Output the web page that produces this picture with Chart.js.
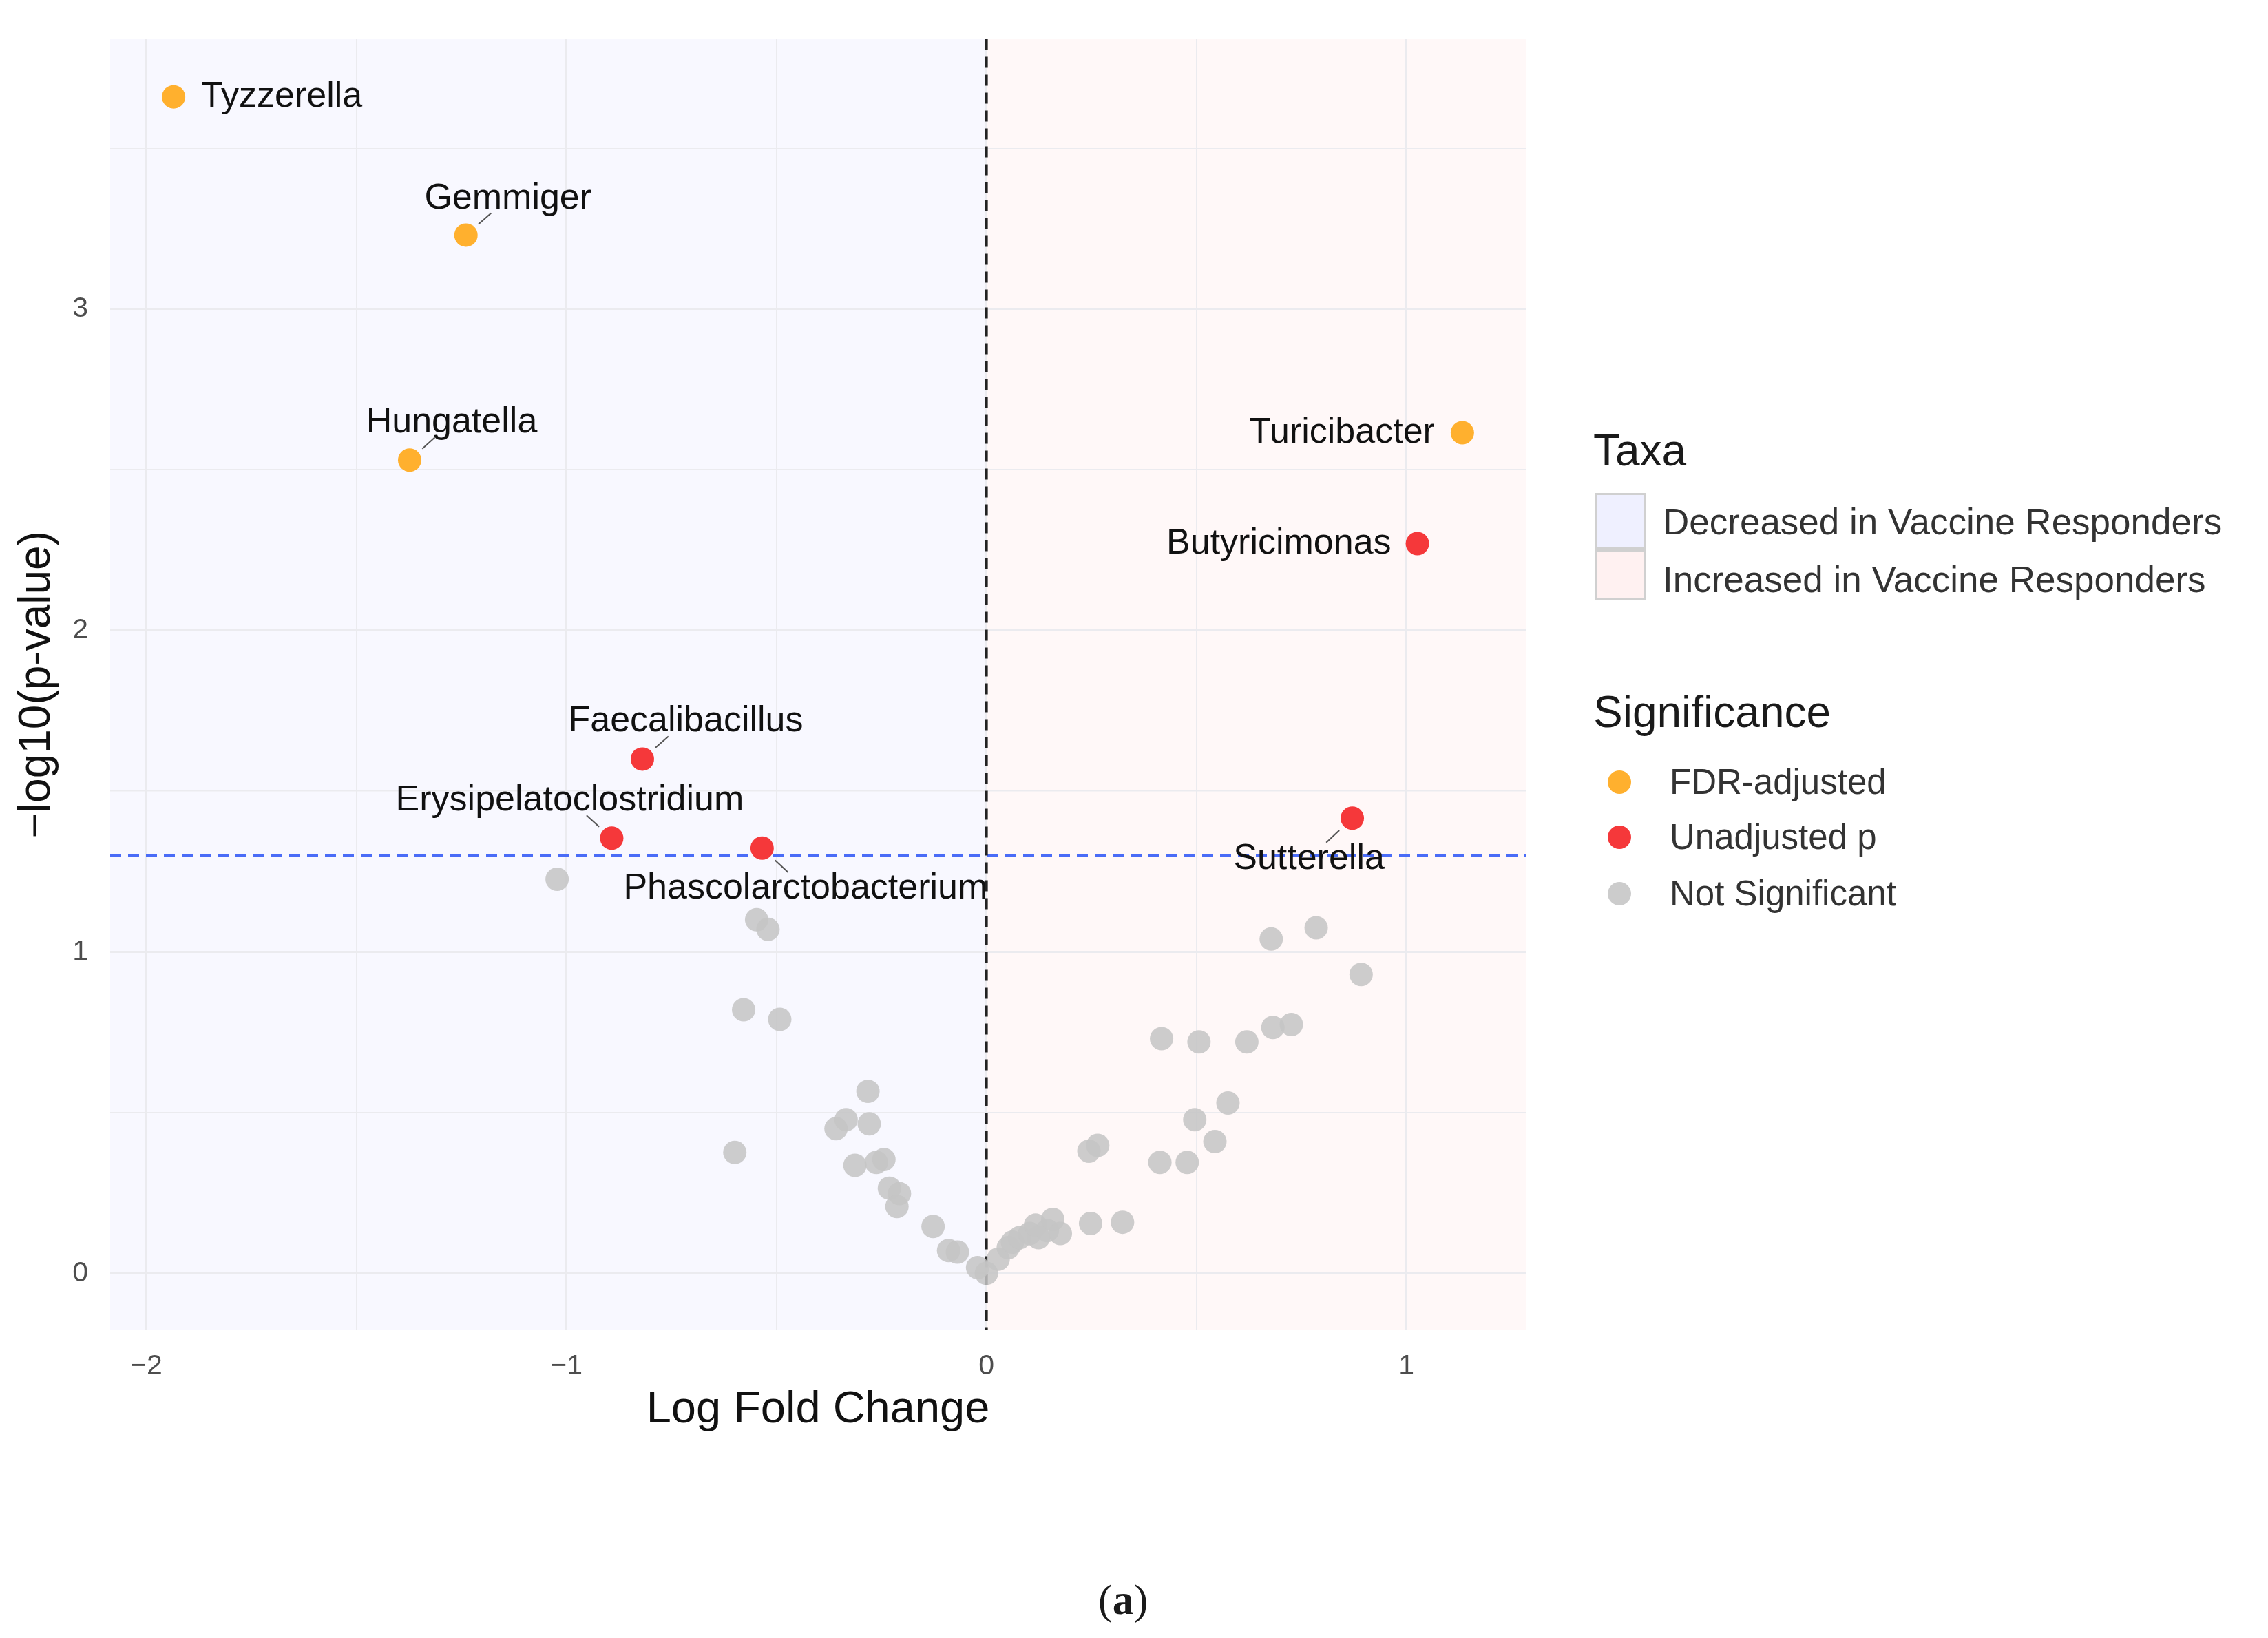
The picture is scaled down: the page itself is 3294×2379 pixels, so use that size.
<!DOCTYPE html>
<html><head><meta charset="utf-8">
<script src="https://cdn.jsdelivr.net/npm/chart.js@4"></script>
<style>
html,body{margin:0;padding:0;background:#fff;}
#wrap{position:relative;width:3294px;height:2379px;font-family:"Liberation Sans",Arial,sans-serif;}
canvas{position:absolute;left:0;top:0;}
.t{position:absolute;white-space:nowrap;color:#1a1a1a;line-height:1;}
.key{position:absolute;border:3px solid #d0d0d0;box-sizing:border-box;}
.dot{position:absolute;width:34px;height:34px;border-radius:50%;}
</style></head>
<body><div id="wrap"><canvas id="c" width="3294" height="2379"></canvas>
<div class="t" style="left:2314px;top:622px;font-size:64px;">Taxa</div>
<div class="key" style="left:2316px;top:716px;width:74px;height:82px;background:#EFF0FF;"></div>
<div class="key" style="left:2316px;top:798px;width:74px;height:74px;background:#FFF1F1;"></div>
<div class="t" style="left:2415px;top:731px;font-size:53px;color:#333;">Decreased in Vaccine Responders</div>
<div class="t" style="left:2415px;top:815px;font-size:53px;color:#333;">Increased in Vaccine Responders</div>
<div class="t" style="left:2314px;top:1002px;font-size:64px;">Significance</div>
<div class="dot" style="left:2335px;top:1119px;background:#FFB02E;"></div>
<div class="dot" style="left:2335px;top:1199px;background:#F5383A;"></div>
<div class="dot" style="left:2335px;top:1281px;background:#CCCCCC;"></div>
<div class="t" style="left:2425px;top:1110px;font-size:51px;color:#333;">FDR-adjusted</div>
<div class="t" style="left:2425px;top:1190px;font-size:51px;color:#333;">Unadjusted p</div>
<div class="t" style="left:2425px;top:1272px;font-size:51px;color:#333;">Not Significant</div>
<div class="t" style="left:1595px;top:2292px;font-size:62px;font-family:'Liberation Serif',serif;">(<b>a</b>)</div>
</div>
<script>
// Significant taxa
const sigNames = ["Tyzzerella","Gemmiger","Hungatella","Turicibacter","Butyricimonas","Faecalibacillus","Erysipelatoclostridium","Phascolarctobacterium","Sutterella"];
const sigX = [-1.935,-1.239,-1.373,1.133,1.026,-0.819,-0.892,-0.534,0.871];
const sigY = [3.66,3.23,2.53,2.615,2.27,1.60,1.354,1.323,1.416];
const sigType = ["FDR","FDR","FDR","FDR","Unadj","Unadj","Unadj","Unadj","Unadj"];
// Non-significant taxa
const nsX = [-1.022,-0.547,-0.520,-0.578,-0.492,-0.599,-0.282,-0.358,-0.334,-0.279,-0.313,-0.262,-0.244,-0.231,-0.207,-0.213,-0.127,-0.090,-0.069,-0.021,0.000,0.028,0.052,0.062,0.079,0.103,0.124,0.117,0.145,0.158,0.176,0.248,0.324,0.244,0.265,0.413,0.478,0.496,0.544,0.575,0.417,0.506,0.620,0.682,0.726,0.678,0.785,0.892];
const nsY = [1.226,1.10,1.07,0.82,0.79,0.376,0.566,0.45,0.478,0.465,0.336,0.345,0.354,0.265,0.248,0.208,0.146,0.071,0.066,0.018,0.000,0.044,0.080,0.097,0.111,0.124,0.111,0.150,0.133,0.168,0.124,0.155,0.159,0.38,0.398,0.345,0.345,0.478,0.41,0.53,0.73,0.72,0.72,0.765,0.774,1.04,1.075,0.93];
const xTicks = [-2,-1.5,-1,-0.5,0,0.5,1];
const yTicks = [0,0.5,1,1.5,2,2.5,3,3.5];
const pThreshold = 1.301;
// label offsets (px) and alignment: styling only
const labelStyle = [[40,0,'left',false],[61,-53,'center',true],[61,-55,'center',true],[-40,0,'right',false],[-38,0,'right',false],[63,-55,'center',true],[-61,-55,'center',true],[63,59,'center',true],[-63,59,'center',true]];

const fmt = v => Number.isInteger(v) ? String(v).replace('-', '\u2212') : '';
const pts = (xs, ys, f) => xs.map((x,i)=>({x, y: ys[i]})).filter((_,i)=>f(i));

const bgPlugin = {
  id:'bg',
  beforeDraw(ch){
    const {ctx, chartArea:a, scales:{x}} = ch;
    const x0 = x.getPixelForValue(0);
    ctx.save();
    ctx.fillStyle = '#F8F8FF'; ctx.fillRect(a.left, a.top, x0-a.left, a.bottom-a.top);
    ctx.fillStyle = '#FFF8F8'; ctx.fillRect(x0, a.top, a.right-x0, a.bottom-a.top);
    ctx.restore();
  },
  beforeDatasetsDraw(ch){
    const {ctx, chartArea:a, scales:{x,y}} = ch;
    ctx.save();
    ctx.setLineDash([16,10]); ctx.lineWidth = 4;
    ctx.strokeStyle = '#4A6CF7';
    const yp = y.getPixelForValue(pThreshold);
    ctx.beginPath(); ctx.moveTo(a.left, yp); ctx.lineTo(a.right, yp); ctx.stroke();
    ctx.strokeStyle = '#222';
    const x0 = x.getPixelForValue(0);
    ctx.beginPath(); ctx.moveTo(x0, a.top); ctx.lineTo(x0, a.bottom); ctx.stroke();
    ctx.restore();
  },
  afterDatasetsDraw(ch){
    const {ctx, scales:{x,y}} = ch;
    ctx.save();
    ctx.font = '52px "Liberation Sans", Arial, sans-serif';
    ctx.fillStyle = '#111'; ctx.textBaseline = 'middle';
    sigNames.forEach((n,i)=>{
      const px = x.getPixelForValue(sigX[i]), py = y.getPixelForValue(sigY[i]);
      const [dx,dy,al,lead] = labelStyle[i];
      if (lead){
        ctx.strokeStyle = '#555'; ctx.lineWidth = 2;
        ctx.beginPath(); ctx.moveTo(px+dx*0.3, py+dy*0.3); ctx.lineTo(px+dx*0.6, py+dy*0.6); ctx.stroke();
      }
      ctx.textAlign = al;
      ctx.fillText(n, px+dx, py+dy);
    });
    ctx.restore();
  }
};

new Chart(document.getElementById('c'), {
  type:'scatter',
  data:{datasets:[
    {data: pts(nsX, nsY, ()=>true), backgroundColor:'rgba(196,196,196,0.85)'},
    {data: pts(sigX, sigY, i=>sigType[i]==='Unadj'), backgroundColor:'#F5383A'},
    {data: pts(sigX, sigY, i=>sigType[i]==='FDR'), backgroundColor:'#FFB02E'}
  ]},
  options:{
    responsive:false, animation:false, devicePixelRatio:1,
    layout:{padding:{left:16, top:-7, right:1078, bottom:292}},
    elements:{point:{radius:17, borderWidth:0, hoverRadius:17}},
    plugins:{legend:{display:false}, tooltip:{enabled:false}},
    scales:{
      x:{type:'linear', min:-2.086, max:1.284,
        afterBuildTicks(s){ s.ticks = xTicks.map(v=>({value:v})); },
        afterFit(s){ s.height = 155; },
        border:{display:false},
        grid:{drawTicks:false, color:'#EBEBEF', lineWidth:c=>Number.isInteger(c.tick.value)?3:1.5},
        ticks:{padding:28, color:'#4D4D4D', font:{size:41, family:'"Liberation Sans", Arial'}, callback:fmt},
        title:{display:true, text:'Log Fold Change', color:'#111', font:{size:65, family:'"Liberation Sans", Arial'}, padding:0}
      },
      y:{type:'linear', min:-0.177, max:3.84,
        afterBuildTicks(s){ s.ticks = yTicks.map(v=>({value:v})); },
        afterFit(s){ s.width = 144; },
        border:{display:false},
        grid:{drawTicks:false, color:'#EBEBEF', lineWidth:c=>Number.isInteger(c.tick.value)?3:1.5},
        ticks:{padding:32, color:'#4D4D4D', font:{size:41, family:'"Liberation Sans", Arial'}, callback:fmt},
        title:{display:true, text:'\u2212log10(p-value)', color:'#111', font:{size:64, family:'"Liberation Sans", Arial'}, padding:0}
      }
    }
  },
  plugins:[bgPlugin]
});
</script></body></html>
